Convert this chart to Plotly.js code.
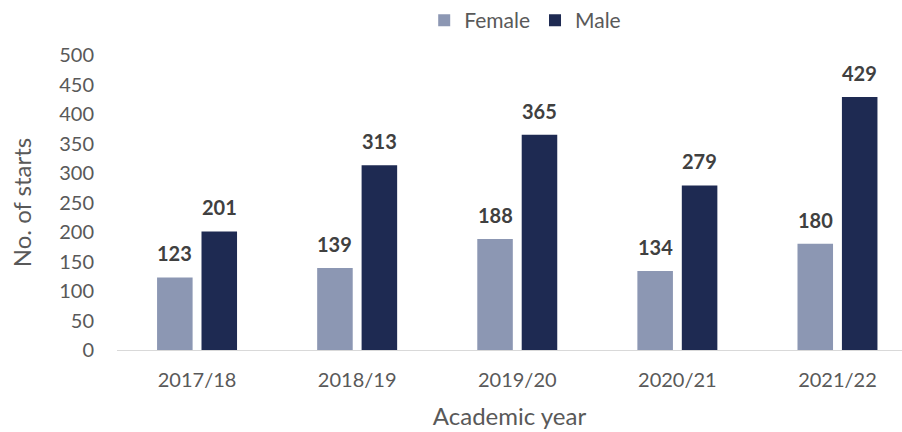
<!DOCTYPE html>
<html>
<head>
<meta charset="utf-8">
<script src="https://cdn.plot.ly/plotly-3.0.1.min.js"></script>
<style>html,body{margin:0;padding:0;background:#fff;}#chart{width:902px;height:432px;}</style>
</head>
<body>
<div id="chart"></div>
<script>
const years = ["2017/18", "2018/19", "2019/20", "2020/21", "2021/22"];
const female = [123, 139, 188, 134, 180];
const male = [201, 313, 365, 279, 429];
const yTicks = [0, 50, 100, 150, 200, 250, 300, 350, 400, 450, 500];

const FONT = "Lato, 'Open Sans', sans-serif";
const labelFont = {family: FONT, size: 20, color: "#404040", weight: "bold"};

const traces = [
  {type: "bar", name: "Female", x: years, y: female, marker: {color: "#8c97b3"}, hoverinfo: "skip"},
  {type: "bar", name: "Male", x: years, y: male, marker: {color: "#1e2a52"}, hoverinfo: "skip"}
];

const SHIFT = 22.25;
const annotations = [];
years.forEach((yr, i) => {
  annotations.push({x: yr, y: female[i], xref: "x", yref: "y", text: String(female[i]), showarrow: false,
    xanchor: "center", yanchor: "bottom", xshift: -SHIFT, yshift: 10, font: labelFont});
  annotations.push({x: yr, y: male[i], xref: "x", yref: "y", text: String(male[i]), showarrow: false,
    xanchor: "center", yanchor: "bottom", xshift: SHIFT, yshift: 10, font: labelFont});
});

const layout = {
  width: 902, height: 432,
  margin: {l: 117, r: 0, t: 55, b: 82},
  paper_bgcolor: "#fff", plot_bgcolor: "#fff",
  font: {family: FONT, color: "#595959", size: 20},
  barmode: "group", bargap: 0.445, bargroupgap: 0.2,
  showlegend: true,
  annotations: annotations,
  legend: {orientation: "h", x: 0.52, xanchor: "center", y: 1.0, yref: "container", yanchor: "top",
           font: {family: FONT, size: 21, color: "#595959"}, traceorder: "normal"},
  xaxis: {type: "category", range: [-0.5, 4.403], showline: true, linecolor: "#d9d9d9", linewidth: 1,
          ticks: "", showgrid: false, zeroline: false, tickfont: {size: 20, color: "#595959"},
          ticklabelstandoff: 12,
          title: {text: "Academic year", font: {size: 24, color: "#595959"}, standoff: 18}},
  yaxis: {range: [0, 500], tickvals: yTicks, ticktext: yTicks.map(String), showgrid: false, zeroline: false,
          showline: false, ticks: "", tickfont: {size: 20, color: "#595959"}, ticklabelstandoff: 22,
          title: {text: "No. of starts", font: {size: 24, color: "#595959"}, standoff: 20}}
};

Plotly.newPlot("chart", traces, layout, {displayModeBar: false, staticPlot: true});
</script>
</body>
</html>
